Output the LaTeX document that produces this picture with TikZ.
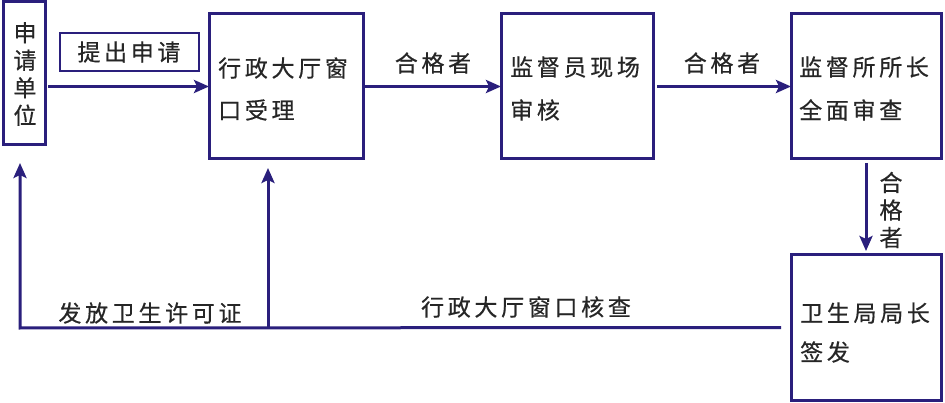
\documentclass[tikz,border=0pt]{standalone}
\usepackage{fontspec}
\newfontfamily\cjk{Noto Sans CJK SC}[LetterSpace=16,FakeBold=0.5]
\usetikzlibrary{arrows.meta}
\definecolor{navy}{HTML}{2A1F7C}
\tikzset{
  box/.style={draw=navy, line width=3pt, inner sep=0pt, outer sep=0pt, rectangle},
  arr/.style={draw=navy, line width=3pt, -{Stealth[length=15pt,width=13pt,inset=3pt]}},
  lbl/.style={font=\cjk\fontsize{23}{27.5}\selectfont, inner sep=0pt, text=black!85},
}
\begin{document}
\begin{tikzpicture}[x=1pt,y=-1pt]
\useasboundingbox[fill=white] (0,0) rectangle (945,403);
% boxes
\node[box, minimum width=42pt, minimum height=143pt] (b1) at (24,73.5) {};
\node[box, line width=2.6pt, minimum width=139pt, minimum height=38pt] (tc) at (129.5,52) {};
\node[box, minimum width=154pt, minimum height=145pt] (b2) at (286,86.5) {};
\node[box, minimum width=152pt, minimum height=145pt] (b3) at (577,86.5) {};
\node[box, minimum width=150pt, minimum height=145pt] (b4) at (866,86.5) {};
\node[box, minimum width=150pt, minimum height=145pt] (b5) at (866,327.5) {};
% box texts
\node[lbl, align=center] (t1) at (25,74) {申\\请\\单\\位};
\node[lbl] (ttc) at (129,52) {提出申请};
\node[lbl, anchor=west] (t2a) at (218,68) {行政大厅窗};
\node[lbl, anchor=west] (t2b) at (218,110) {口受理};
\node[lbl, anchor=west] (t3a) at (510,67) {监督员现场};
\node[lbl, anchor=west] (t3b) at (510,110) {审核};
\node[lbl, anchor=west] (t4a) at (799,67) {监督所所长};
\node[lbl, anchor=west] (t4b) at (799,110) {全面审查};
\node[lbl, anchor=west] (t5a) at (800,313) {卫生局局长};
\node[lbl, anchor=west] (t5b) at (800,352) {签发};
% arrows
\draw[arr, shorten <=3pt] (b1.east |- b2.west) -- (b2.west);
\draw[arr, shorten <=2pt] (b2.east) -- (b3.west);
\draw[arr, shorten <=4pt] (b3.east) -- (b4.west);
\draw[arr, shorten <=4pt, shorten >=4pt] (b4.south) -- (b5.north);
\node[lbl] (l1) at (433,63) {合格者};
\node[lbl] (l2) at (722,63) {合格者};
\node[lbl, align=center] (l3) at (891,210) {合\\格\\者};
% return path
\coordinate (r) at ([xshift=-10pt]b5.west);
\coordinate (j) at (268,328);
\coordinate (k) at (20,328);
\draw[arr, shorten >=18pt] (r) -- (k) -- (k |- b1.south);
\draw[arr, shorten >=9pt] (j) -- (j |- b2.south);
\node[lbl] (l4) at (150,313) {发放卫生许可证};
\node[lbl] (l5) at (526,307) {行政大厅窗口核查};
\end{tikzpicture}
\end{document}
